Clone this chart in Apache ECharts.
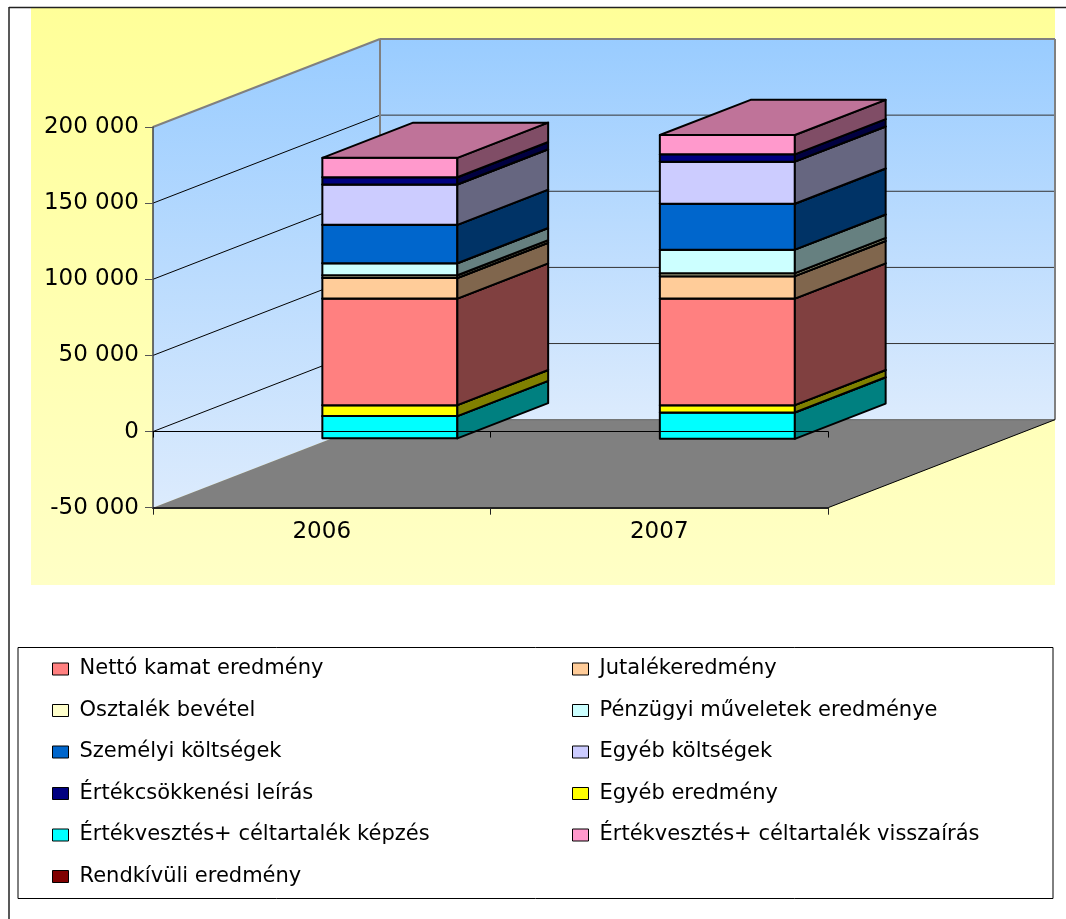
<!DOCTYPE html>
<html><head><meta charset="utf-8">
<script src="https://cdn.jsdelivr.net/npm/echarts@6/dist/echarts.min.js"></script>
<style>html,body{margin:0;padding:0;background:#fff}#c{width:1066px;height:919px}</style>
</head><body><div id="c"></div>
<script>
// ---------- data ----------
const categories = ['2006', '2007'];
const yTicks = [-50000, 0, 50000, 100000, 150000, 200000];
const seriesNames = [
  'Nettó kamat eredmény', 'Jutalékeredmény', 'Osztalék bevétel',
  'Pénzügyi műveletek eredménye', 'Személyi költségek', 'Egyéb költségek',
  'Értékcsökkenési leírás', 'Egyéb eredmény', 'Értékvesztés+ céltartalék képzés',
  'Értékvesztés+ céltartalék visszaírás', 'Rendkívüli eredmény'
];
const nettoKamat = [70000, 70000];
const jutalek = [13500, 14700];
const osztalek = [1800, 2000];
const penzugyi = [7900, 15400];
const szemelyi = [25200, 30200];
const egyebKoltseg = [26500, 27600];
const ertekcsokkenes = [4800, 4800];
const egyebEredmeny = [-7200, -4800];
const ertekvesztesKepzes = [-14600, -17300];
const ertekvesztesVissza = [12700, 12700];
const rendkivuli = [0, 0];
const seriesValues = [nettoKamat, jutalek, osztalek, penzugyi, szemelyi, egyebKoltseg,
  ertekcsokkenes, egyebEredmeny, ertekvesztesKepzes, ertekvesztesVissza, rendkivuli];
const colors = ['#FF8080', '#FFCC99', '#FFFFCC', '#CCFFFF', '#0066CC', '#CCCCFF',
  '#000080', '#FFFF00', '#00FFFF', '#FF99CC', '#800000'];

// ---------- 3D projection style ----------
const DEPTH_X = 227, DEPTH_Y = -88;   // pixel offset of back wall
const BAR_FRONT = 0.3, BAR_DEPTH = 0.4, GAP_WIDTH = 1.5;
const FONT = 'DejaVu Sans';

function shade(hex, f) {
  const n = parseInt(hex.slice(1), 16);
  const r = Math.round(((n >> 16) & 255) * f), g = Math.round(((n >> 8) & 255) * f), b = Math.round((n & 255) * f);
  return 'rgb(' + r + ',' + g + ',' + b + ')';
}

// stacking (positive up, negative down, Excel style)
const stacked = seriesValues.map(() => []);
categories.forEach((c, ci) => {
  let pos = 0, neg = 0;
  seriesValues.forEach((arr, si) => {
    const v = arr[ci];
    if (v >= 0) { stacked[si].push([ci, pos, pos + v]); pos += v; }
    else { stacked[si].push([ci, neg + v, neg]); neg += v; }
  });
});
// draw order: lower segments first
const order = seriesValues.map((a, i) => i).sort((a, b) => stacked[a][0][1] - stacked[b][0][1] || a - b);
const zOf = {};
order.forEach((si, r) => { zOf[si] = 10 + r; });

function renderBar(idx) {
  return function (params, api) {
    const cat = api.value(0), lo = api.value(1), hi = api.value(2);
    if (!(hi - lo > 0)) return null;
    const band = api.size([1, 0])[0];
    const bw = band / (1 + GAP_WIDTH);
    const pLo = api.coord([cat, lo]), pHi = api.coord([cat, hi]);
    const ox = DEPTH_X * BAR_FRONT, oy = DEPTH_Y * BAR_FRONT;
    const dx = DEPTH_X * BAR_DEPTH, dy = DEPTH_Y * BAR_DEPTH;
    const x0 = pLo[0] - bw / 2 + ox, x1 = x0 + bw;
    const yb = pLo[1] + oy, yt = pHi[1] + oy;
    const base = colors[idx];
    const st = { stroke: '#000', lineWidth: 2, lineJoin: 'round' };
    return {
      type: 'group', children: [
        { type: 'polygon', shape: { points: [[x0, yt], [x1, yt], [x1, yb], [x0, yb]] }, style: Object.assign({ fill: base }, st) },
        { type: 'polygon', shape: { points: [[x1, yt], [x1 + dx, yt + dy], [x1 + dx, yb + dy], [x1, yb]] }, style: Object.assign({ fill: shade(base, 0.5) }, st) },
        { type: 'polygon', shape: { points: [[x0, yt], [x1, yt], [x1 + dx, yt + dy], [x0 + dx, yt + dy]] }, style: Object.assign({ fill: shade(base, 0.75) }, st) }
      ]
    };
  };
}

function renderWalls(params, api) {
  const cs = params.coordSys;
  const L = cs.x, R = cs.x + cs.width, T = cs.y, B = cs.y + cs.height;
  const DX = DEPTH_X, DY = DEPTH_Y;
  const grad = () => new echarts.graphic.LinearGradient(0, 0, 0, 1, [
    { offset: 0, color: '#99CCFF' }, { offset: 1, color: '#DCEBFD' }]);
  const ch = [];
  ch.push({ type: 'polygon', shape: { points: [[L, T], [L + DX, T + DY], [L + DX, B + DY], [L, B]] }, style: { fill: grad() } });
  ch.push({ type: 'polygon', shape: { points: [[L + DX, T + DY], [R + DX, T + DY], [R + DX, B + DY], [L + DX, B + DY]] }, style: { fill: grad() } });
  ch.push({ type: 'polygon', shape: { points: [[L, B], [R, B], [R + DX, B + DY], [L + DX, B + DY]] }, style: { fill: '#808080' } });
  const minV = yTicks[0], maxV = yTicks[yTicks.length - 1];
  yTicks.forEach(v => {
    if (v === minV || v === maxV) return;
    const y = api.coord([0, v])[1];
    ch.push({ type: 'line', shape: { x1: L, y1: y, x2: L + DX, y2: y + DY }, style: { stroke: '#000', lineWidth: 1 } });
    ch.push({ type: 'line', shape: { x1: L + DX, y1: y + DY, x2: R + DX, y2: y + DY }, style: { stroke: '#333', lineWidth: 1 } });
  });
  const gray = { stroke: '#808080', lineWidth: 2 };
  ch.push({ type: 'line', shape: { x1: L, y1: T, x2: L + DX, y2: T + DY }, style: gray });
  ch.push({ type: 'line', shape: { x1: L + DX, y1: T + DY, x2: R + DX, y2: T + DY }, style: gray });
  ch.push({ type: 'line', shape: { x1: R + DX, y1: T + DY, x2: R + DX, y2: B + DY }, style: gray });
  ch.push({ type: 'line', shape: { x1: L + DX, y1: T + DY, x2: L + DX, y2: B + DY }, style: gray });
  ch.push({ type: 'line', shape: { x1: L + DX, y1: B + DY, x2: R + DX, y2: B + DY }, style: { stroke: '#606060', lineWidth: 1 } });
  ch.push({ type: 'line', shape: { x1: R, y1: B, x2: R + DX, y2: B + DY }, style: { stroke: '#000', lineWidth: 1 } });
  return { type: 'group', children: ch };
}

const fmt = v => (v < 0 ? '-' : '') + String(Math.abs(v)).replace(/\B(?=(\d{3})+(?!\d))/g, ' ');

const series = [{
  type: 'custom', name: '__walls', silent: true, z: 1,
  data: [[0, 0, 0]], encode: { x: 0, y: 1 },
  renderItem: renderWalls
}];
seriesNames.forEach((name, i) => {
  series.push({
    type: 'custom', name: name, z: zOf[i], silent: true,
    itemStyle: { color: colors[i] },
    encode: { x: 0, y: [1, 2] },
    data: stacked[i],
    renderItem: renderBar(i)
  });
});

const legendCommon = {
  orient: 'vertical', top: 658, padding: 0, itemGap: 19.5, itemWidth: 16, itemHeight: 12,
  icon: 'rect', selectedMode: false,
  itemStyle: { borderColor: '#000', borderWidth: 1 },
  textStyle: { fontFamily: FONT, fontSize: 21, color: '#000', lineHeight: 22, padding: [0, 0, 0, 6] }
};

const yellowGrad = new echarts.graphic.LinearGradient(0, 0, 0, 1, [
  { offset: 0, color: '#FFFF99' }, { offset: 1, color: '#FFFFC6' }]);

const option = {
  animation: false,
  backgroundColor: '#fff',
  graphic: [
    { type: 'rect', z: -20, silent: true, shape: { x: 31, y: 8, width: 1024, height: 577 }, style: { fill: yellowGrad } },
    { type: 'line', z: -19, silent: true, shape: { x1: 9, y1: 7.5, x2: 1066, y2: 7.5 }, style: { stroke: '#222', lineWidth: 1.5 } },
    { type: 'line', z: -19, silent: true, shape: { x1: 9, y1: 7, x2: 9, y2: 919 }, style: { stroke: '#222', lineWidth: 1.5 } },
    { type: 'rect', z: -18, silent: true, shape: { x: 18, y: 647.5, width: 1035, height: 251 }, style: { fill: '#fff', stroke: '#000', lineWidth: 1 } }
  ],
  grid: { left: 153, right: 238, top: 127, bottom: 411.3, containLabel: false },
  xAxis: [{
    type: 'category', data: categories, position: 'bottom', z: 5,
    axisLine: { onZero: false, lineStyle: { color: '#222', width: 2 } },
    axisTick: { show: true, length: 7, lineStyle: { color: '#222', width: 1 } },
    axisLabel: { fontFamily: FONT, fontSize: 23, color: '#000', margin: 13 },
    splitLine: { show: false }
  }, {
    type: 'category', data: categories, position: 'bottom', z: 100,
    axisLine: { onZero: true, lineStyle: { color: '#000', width: 1 } },
    axisTick: { show: true, length: 6, lineStyle: { color: '#000', width: 1 } },
    axisLabel: { show: false },
    splitLine: { show: false }
  }],
  yAxis: {
    type: 'value', min: yTicks[0], max: yTicks[yTicks.length - 1], interval: 50000, z: 5,
    axisLine: { show: true, onZero: false, lineStyle: { color: '#404040', width: 1.5 } },
    axisTick: { show: true, length: 8, lineStyle: { color: '#555', width: 1 } },
    axisLabel: { fontFamily: FONT, fontSize: 23, color: '#000', margin: 14, formatter: fmt, showMinLabel: true, showMaxLabel: true },
    splitLine: { show: false }
  },
  legend: [
    Object.assign({ left: 52, data: seriesNames.filter((n, i) => i % 2 === 0) }, legendCommon),
    Object.assign({ left: 572, data: seriesNames.filter((n, i) => i % 2 === 1) }, legendCommon)
  ],
  series: series
};

const chart = echarts.init(document.getElementById('c'), null, { renderer: 'canvas' });
chart.setOption(option);
</script>
</body></html>
